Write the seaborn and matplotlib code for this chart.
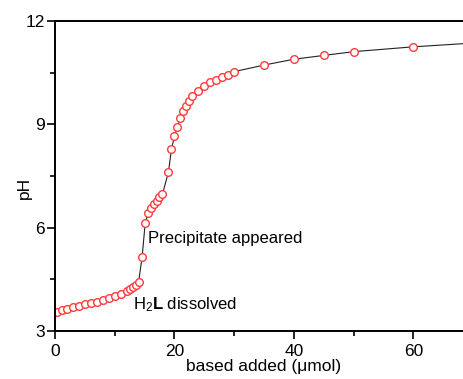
import matplotlib
matplotlib.use('Agg')
import matplotlib.pyplot as plt
import seaborn as sns
import pandas as pd

# titration data
base_added = [0.3, 1.1, 2, 3, 4, 5, 6, 7, 8, 9, 10, 11, 12, 12.5, 13, 13.5, 14, 14.6,
              15.1, 15.6, 16, 16.5, 17, 17.5, 18, 19, 19.5, 20, 20.5, 21, 21.5, 22, 22.5, 23,
              24, 25, 26, 27, 28, 29, 30, 35, 40, 45, 50, 60, 70]
ph = [3.56, 3.60, 3.65, 3.69, 3.73, 3.78, 3.81, 3.85, 3.90, 3.95, 4.01, 4.08, 4.15, 4.21, 4.28, 4.34, 4.42, 5.16,
      6.13, 6.43, 6.58, 6.68, 6.77, 6.88, 6.98, 7.61, 8.28, 8.65, 8.92, 9.19, 9.39, 9.54, 9.69, 9.83,
      9.98, 10.10, 10.23, 10.30, 10.38, 10.44, 10.53, 10.72, 10.89, 11.00, 11.11, 11.25, 11.36]

x_ticks = [0, 20, 40, 60]
y_ticks = [3, 6, 9, 12]

sns.set_style('ticks')
plt.rcParams['font.family'] = ['Liberation Sans', 'DejaVu Sans']
plt.rcParams['mathtext.fontset'] = 'custom'
plt.rcParams['mathtext.rm'] = 'Liberation Sans'
plt.rcParams['mathtext.it'] = 'Liberation Sans:italic'
plt.rcParams['mathtext.bf'] = 'Liberation Sans:bold'
plt.rcParams['text.color'] = 'black'
plt.rcParams['axes.labelcolor'] = 'black'
plt.rcParams['xtick.color'] = 'black'
plt.rcParams['ytick.color'] = 'black'

df = pd.DataFrame({'base': base_added, 'pH': ph})

fig = plt.figure(figsize=(4.64, 3.79), dpi=100)
# axes runs to x=70, a bit past the right edge of the picture (cropped like the original)
ax = fig.add_axes([55 / 464, 1 - 331 / 379, 418 / 464, 310 / 379])

sns.lineplot(data=df, x='base', y='pH', ax=ax, color='#222222', linewidth=0.8,
             marker='o', markersize=5.5, markerfacecolor='white',
             markeredgecolor='#ff3b3b', markeredgewidth=1.0)

ax.set_xlim(0, 70)
ax.set_ylim(3, 12)
ax.set_xticks(x_ticks)
ax.set_yticks(y_ticks)
ax.set_xticks([10, 30, 50, 70], minor=True)
ax.set_yticks([4.5, 7.5, 10.5], minor=True)
ax.tick_params(which='major', direction='out', length=6, width=1.2, labelsize=12.5, pad=1.5)
ax.tick_params(which='minor', direction='out', length=3.5, width=1.2)
ax.tick_params(axis='x', which='major', pad=3)

for side in ['left', 'bottom', 'top']:
    ax.spines[side].set_visible(True)
    ax.spines[side].set_linewidth(1.4)
    ax.spines[side].set_color('black')
ax.spines['right'].set_visible(False)

ax.set_xlabel('based added (\u03bcmol)', fontsize=12.5, labelpad=0)
ax.set_ylabel('pH', fontsize=12.5)
ax.yaxis.set_label_coords(-0.055, 0.463)

ax.text(15.6, 5.56, 'Precipitate appeared', fontsize=12, va='baseline', ha='left')
ax.text(13.0, 3.64, r'H$_2$$\mathbf{L}$ dissolved', fontsize=12, va='baseline', ha='left')

fig.savefig('out.png', dpi=100)
plt.close('all')
